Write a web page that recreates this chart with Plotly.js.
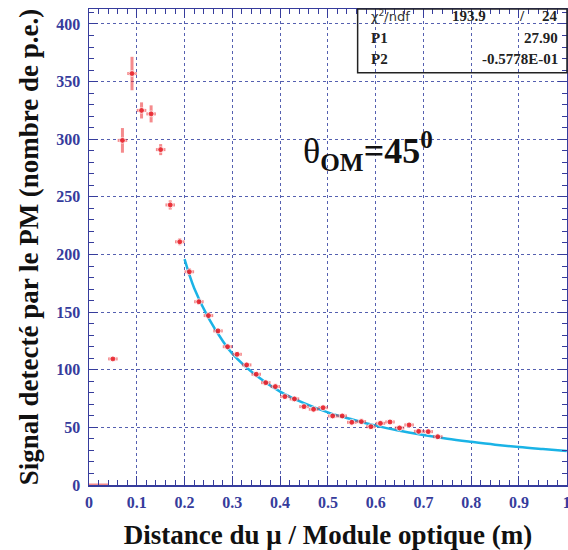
<!DOCTYPE html>
<html>
<head>
<meta charset="utf-8">
<script src="https://cdn.plot.ly/plotly-3.0.1.min.js"></script>
<style>html,body{margin:0;padding:0;background:#fff;}#chart{width:568px;height:550px;}</style>
</head>
<body>
<div id="chart"></div>
<script>
// Measured points (distance in m, signal in p.e.)
var distance = [0.01, 0.03, 0.05, 0.07, 0.09, 0.11, 0.13, 0.15, 0.17, 0.19, 0.21, 0.23, 0.25, 0.27, 0.29,
                0.31, 0.33, 0.35, 0.37, 0.39, 0.41, 0.43, 0.45, 0.47, 0.49, 0.51, 0.53, 0.55, 0.57,
                0.59, 0.61, 0.63, 0.65, 0.67, 0.69, 0.71, 0.73];
var signal = [0, 0, 109.4, 299, 357, 325, 322, 291, 243, 211, 185, 159, 147, 133.7, 120,
              113.4, 104.2, 96.1, 88.8, 85.4, 76.7, 74.7, 68, 65.7, 67.1, 59.9, 59.9, 54.4, 55,
              50.6, 53.5, 54.7, 49.5, 52.1, 46.6, 46.3, 41.9];
var signalErr = [0, 0, 1.5, 10.7, 14.5, 7, 7.4, 4.8, 4, 3, 3, 2.5, 2.5, 2.5, 2,
                 2, 2, 2, 2, 2, 2, 2, 2, 2, 2, 2, 2, 2, 2,
                 2, 2, 2, 2, 2, 2, 2, 2];
var distanceErr = [0.01, 0.01, 0.01, 0.01, 0.01, 0.01, 0.01, 0.01, 0.01, 0.01, 0.01, 0.01, 0.01, 0.01, 0.01,
                   0.01, 0.01, 0.01, 0.01, 0.01, 0.01, 0.01, 0.01, 0.01, 0.01, 0.01, 0.01, 0.01, 0.01,
                   0.01, 0.01, 0.01, 0.01, 0.01, 0.01, 0.01, 0.01];
var markerSizes = [0, 0, 6, 6, 6, 6, 6, 6, 6, 6, 6, 6, 6, 6, 6,
                   6, 6, 6, 6, 6, 6, 6, 6, 6, 6, 6, 6, 6, 6,
                   6, 6, 6, 6, 6, 6, 6, 6];

// Fit curve
var fitX = [0.2, 0.22, 0.25, 0.28, 0.3, 0.35, 0.4, 0.45, 0.5, 0.55, 0.6, 0.65, 0.7, 0.75, 0.8, 0.85, 0.9, 0.95, 1.0];
var fitY = [196, 171, 145, 125, 114, 95, 81, 71, 63, 57, 51.5, 47, 43.4, 40.2, 37.5, 35, 32.9, 31.2, 29.6];

// Stats box text
var statLabels = ['&#967;<sup>2</sup>/ndf', 'P1', 'P2'];
var statValues = ['193.9', '27.90', '-0.5778E-01'];
var ndf = '24';

var axisBlue = '#363c9c';
var gridBlue = '#5560b0';
var serif = 'Liberation Serif, Times New Roman, serif';

var traces = [
  {
    x: fitX, y: fitY, type: 'scatter', mode: 'lines',
    line: {color: '#1ab3e6', width: 2.5, shape: 'spline'},
    hoverinfo: 'skip', showlegend: false
  },
  {
    x: distance, y: signal, type: 'scatter', mode: 'markers',
    marker: {color: '#e8202a', size: markerSizes, symbol: 'circle'},
    error_y: {type: 'data', array: signalErr, color: 'rgba(236,42,46,0.55)', thickness: 3, width: 0},
    error_x: {type: 'data', array: distanceErr, color: 'rgba(236,42,46,0.55)', thickness: 3, width: 0},
    showlegend: false
  }
];

var tickFont = {family: serif, size: 16, color: axisBlue, weight: 'bold'};

var layout = {
  width: 568, height: 550,
  margin: {l: 89, r: 1, t: 9, b: 65},
  paper_bgcolor: '#ffffff', plot_bgcolor: '#ffffff',
  showlegend: false,
  xaxis: {
    range: [0, 1.0005], dtick: 0.1, tick0: 0,
    showline: true, linecolor: axisBlue, linewidth: 1.5, mirror: 'allticks',
    ticks: 'inside', ticklen: 9, tickcolor: axisBlue, tickwidth: 1,
    showgrid: true, gridcolor: gridBlue, griddash: 'dot', gridwidth: 1,
    zeroline: false,
    minor: {dtick: 0.02, ticks: 'inside', ticklen: 5, tickcolor: axisBlue, showgrid: false},
    tickfont: tickFont, ticklabelstandoff: 2, ticklabeloverflow: 'allow',
    title: {text: 'Distance du \u03bc / Module optique (m)', font: {family: serif, size: 27, color: '#111', weight: 'bold'}, standoff: 15}
  },
  yaxis: {
    range: [0, 413], dtick: 50, tick0: 0,
    showline: true, linecolor: axisBlue, linewidth: 1.5, mirror: 'allticks',
    ticks: 'inside', ticklen: 9, tickcolor: axisBlue, tickwidth: 1,
    showgrid: true, gridcolor: gridBlue, griddash: 'dot', gridwidth: 1,
    zeroline: false,
    minor: {dtick: 10, ticks: 'inside', ticklen: 5, tickcolor: axisBlue, showgrid: false},
    tickfont: tickFont, ticklabelstandoff: 4,
    title: {text: 'Signal detect\u00e9 par le PM (nombre de p.e.)', font: {family: serif, size: 27, color: '#111', weight: 'bold'}, standoff: 10}
  },
  shapes: [
    {type: 'rect', xref: 'paper', yref: 'paper', x0: 0.562, x1: 1.0, y0: 0.866, y1: 1.0,
     line: {color: '#222', width: 1.5}, fillcolor: 'rgba(255,255,255,0)'}
  ],
  annotations: [
    {xref: 'paper', yref: 'paper', x: 0.585, y: 0.985, xanchor: 'left', yanchor: 'middle', showarrow: false,
     text: statLabels[0], font: {family: 'DejaVu Sans, sans-serif', size: 13, color: '#333'}},
    {xref: 'paper', yref: 'paper', x: 0.835, y: 0.985, xanchor: 'right', yanchor: 'middle', showarrow: false,
     text: statValues[0], font: {family: serif, size: 15, color: '#222', weight: 'bold'}},
    {xref: 'paper', yref: 'paper', x: 0.905, y: 0.985, xanchor: 'center', yanchor: 'middle', showarrow: false,
     text: '/', font: {family: serif, size: 15, color: '#222', weight: 'bold'}},
    {xref: 'paper', yref: 'paper', x: 0.985, y: 0.985, xanchor: 'right', yanchor: 'middle', showarrow: false,
     text: ndf, font: {family: serif, size: 15, color: '#222', weight: 'bold'}},
    {xref: 'paper', yref: 'paper', x: 0.585, y: 0.94, xanchor: 'left', yanchor: 'middle', showarrow: false,
     text: statLabels[1], font: {family: serif, size: 15, color: '#222', weight: 'bold'}},
    {xref: 'paper', yref: 'paper', x: 0.985, y: 0.94, xanchor: 'right', yanchor: 'middle', showarrow: false,
     text: statValues[1], font: {family: serif, size: 15, color: '#222', weight: 'bold'}},
    {xref: 'paper', yref: 'paper', x: 0.585, y: 0.895, xanchor: 'left', yanchor: 'middle', showarrow: false,
     text: statLabels[2], font: {family: serif, size: 15, color: '#222', weight: 'bold'}},
    {xref: 'paper', yref: 'paper', x: 0.985, y: 0.895, xanchor: 'right', yanchor: 'middle', showarrow: false,
     text: statValues[2], font: {family: serif, size: 15, color: '#222', weight: 'bold'}},
    {xref: 'x', yref: 'y', x: 0.585, y: 290, xanchor: 'center', yanchor: 'middle', showarrow: false,
     text: '\u03b8<sub><b>OM</b></sub><b>=45<sup>0</sup></b>', font: {family: serif, size: 36, color: '#111'}}
  ]
};

Plotly.newPlot('chart', traces, layout, {displayModeBar: false, staticPlot: true});
</script>
</body>
</html>
